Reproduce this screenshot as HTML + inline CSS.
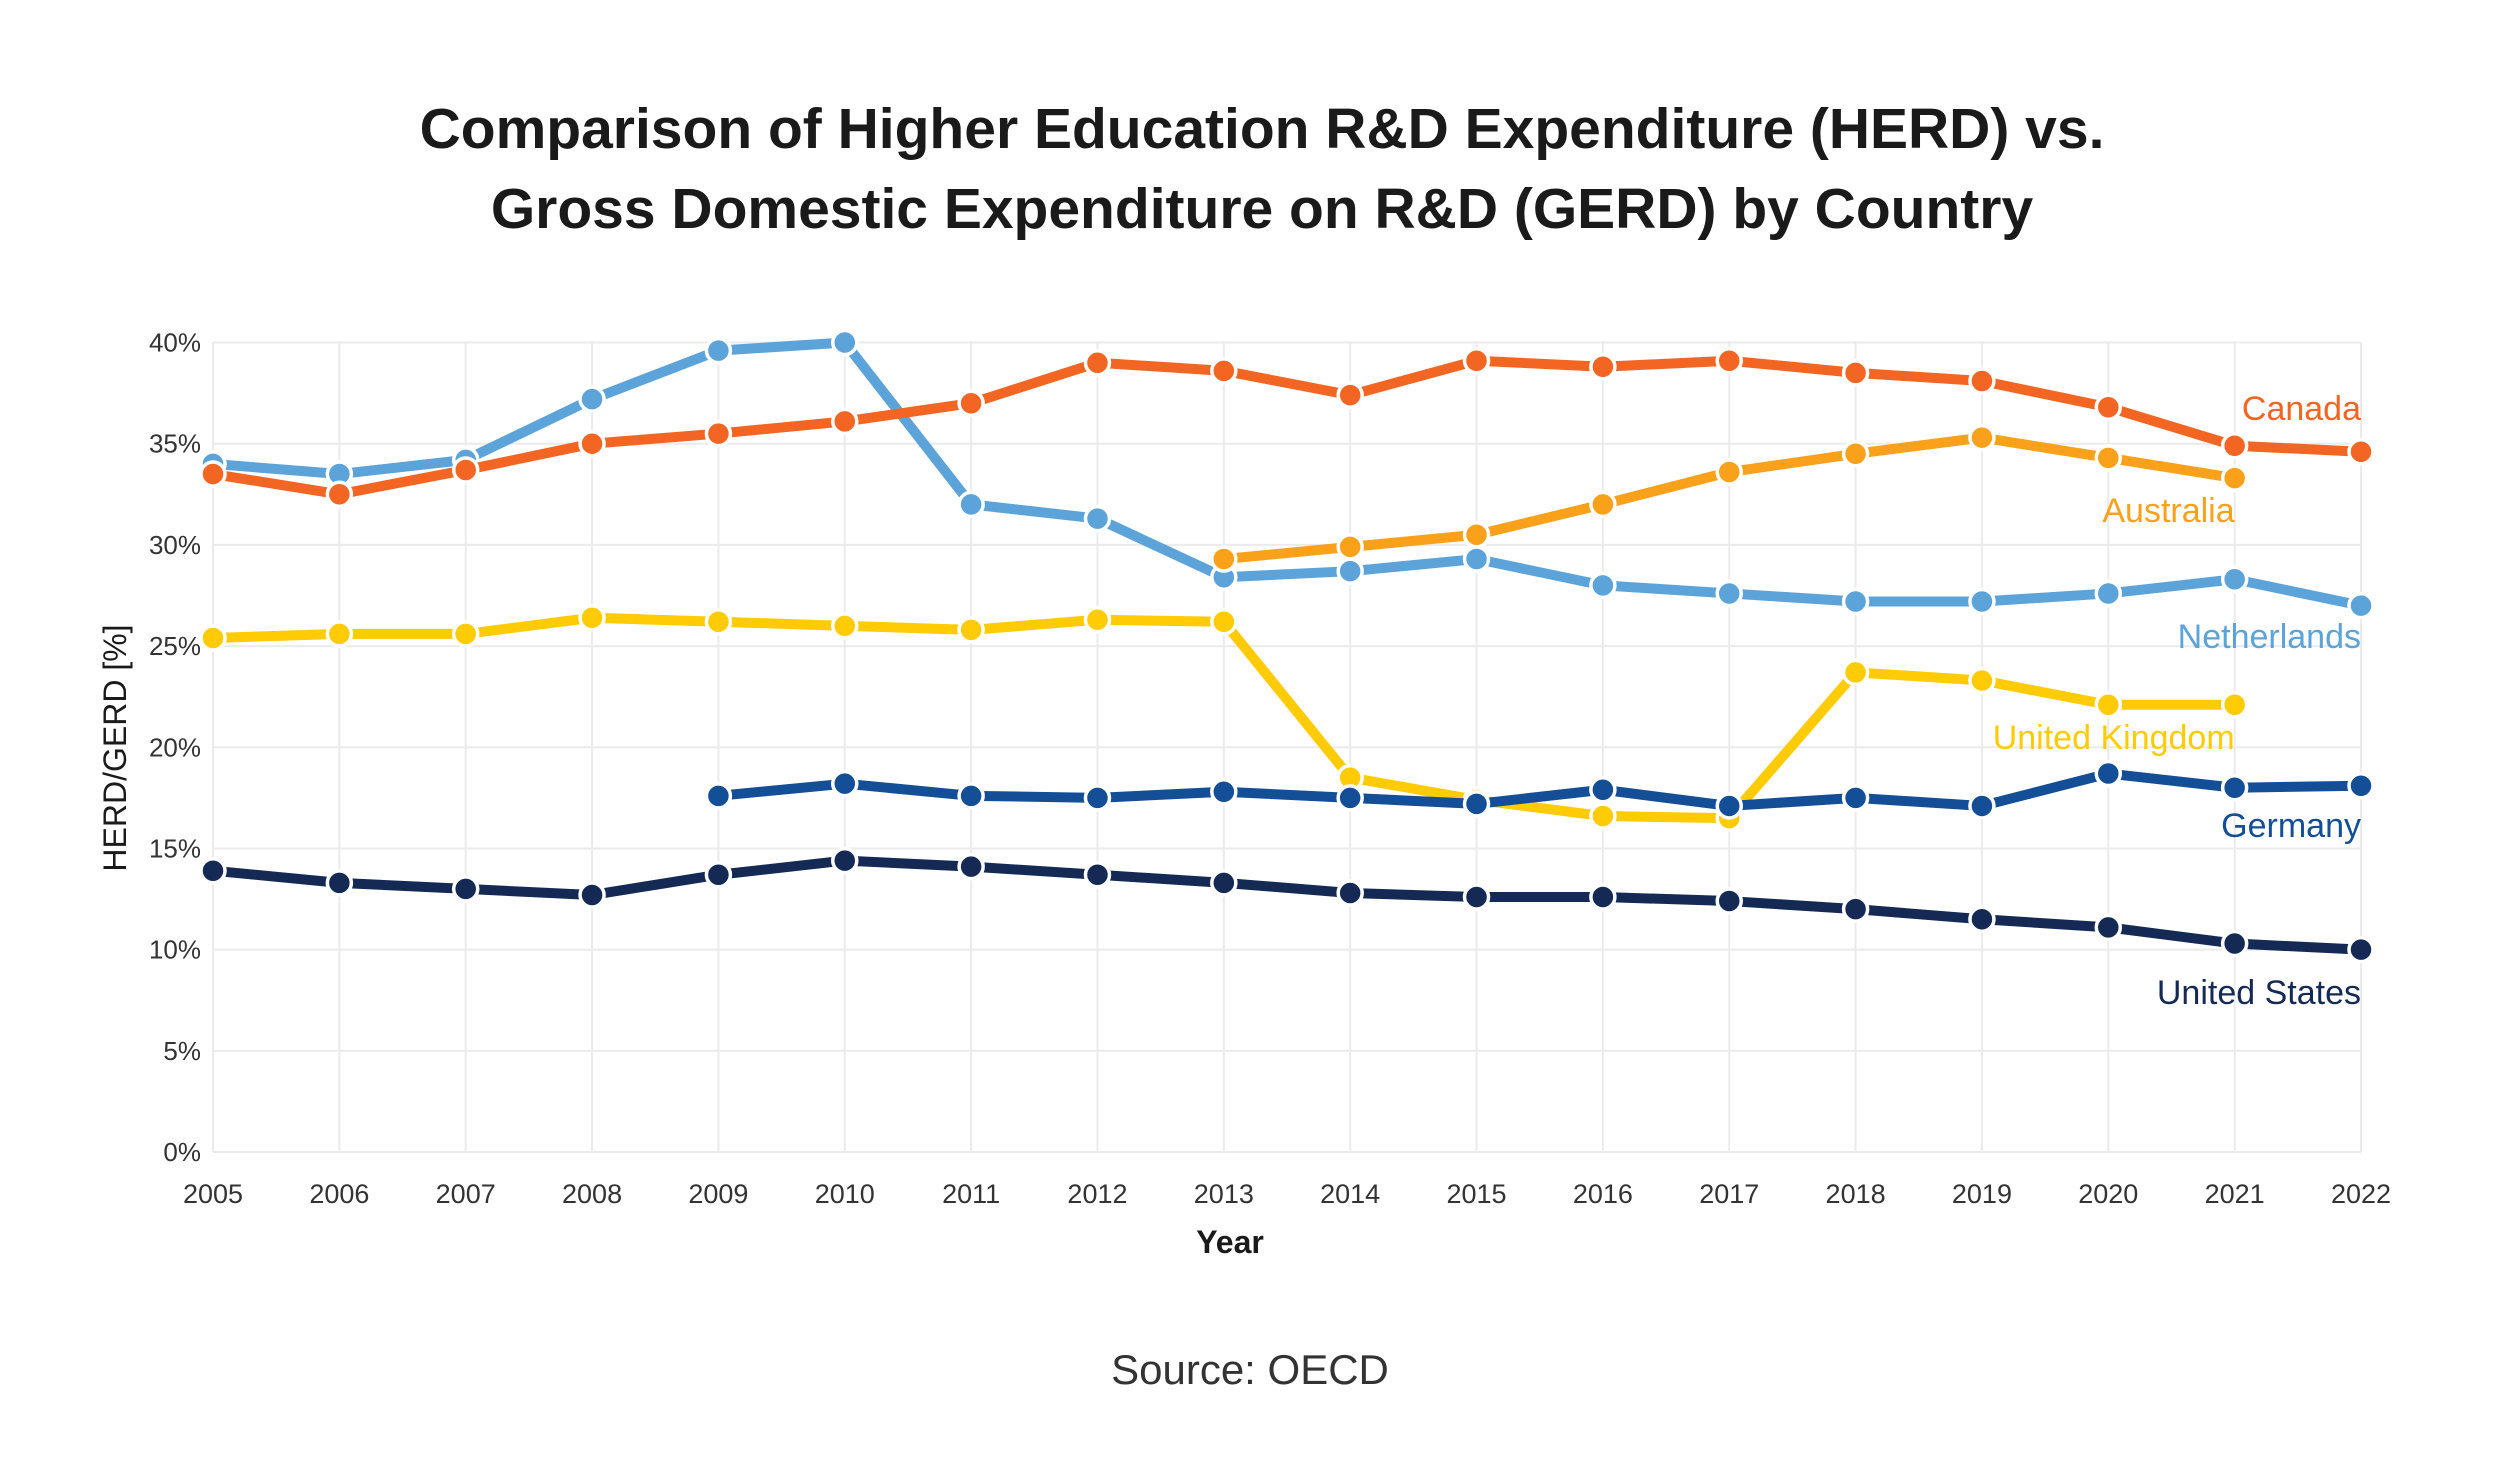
<!DOCTYPE html>
<html><head><meta charset="utf-8"><style>
html,body{margin:0;padding:0;background:#fff;}
svg{display:block;font-family:"Liberation Sans",sans-serif;}
</style></head><body>
<svg id="chart" width="2501" height="1473" viewBox="0 0 2501 1473">
<text x="1262" y="148" text-anchor="middle" font-size="57" font-weight="bold" fill="#1a1a1a">Comparison of Higher Education R&amp;D Expenditure (HERD) vs.</text>
<text x="1262" y="228" text-anchor="middle" font-size="57" font-weight="bold" fill="#1a1a1a">Gross Domestic Expenditure on R&amp;D (GERD) by Country</text>
<g id="grid"></g>
<g id="axes"></g>
<g id="series"></g>
<text x="1230" y="1253" text-anchor="middle" font-size="32" font-weight="bold" fill="#1a1a1a">Year</text>
<text transform="translate(126,748) rotate(-90)" text-anchor="middle" font-size="32" fill="#1a1a1a">HERD/GERD [%]</text>
<text x="1250" y="1384" text-anchor="middle" font-size="42" fill="#333">Source: OECD</text>
</svg>
<script>
const years = [2005,2006,2007,2008,2009,2010,2011,2012,2013,2014,2015,2016,2017,2018,2019,2020,2021,2022];
const yTicks = [0,5,10,15,20,25,30,35,40];
const canada = [33.5,32.5,33.7,35,35.5,36.1,37,39,38.6,37.4,39.1,38.8,39.1,38.5,38.1,36.8,34.9,34.6];
const netherlands = [34,33.5,34.2,37.2,39.6,40,32,31.3,28.4,28.7,29.3,28,27.6,27.2,27.2,27.6,28.3,27.0];
const australia = [null,null,null,null,null,null,null,null,29.3,29.9,30.5,32,33.6,34.5,35.3,34.3,33.3,null];
const uk = [25.4,25.6,25.6,26.4,26.2,26,25.8,26.3,26.2,18.5,17.4,16.6,16.5,23.7,23.3,22.1,22.1,null];
const germany = [null,null,null,null,17.6,18.2,17.6,17.5,17.8,17.5,17.2,17.9,17.1,17.5,17.1,18.7,18.0,18.1];
const us = [13.9,13.3,13.0,12.7,13.7,14.4,14.1,13.7,13.3,12.8,12.6,12.6,12.4,12.0,11.5,11.1,10.3,10.0];
const seriesNames = ["Netherlands","Canada","Australia","United Kingdom","Germany","United States"];

const NS="http://www.w3.org/2000/svg";
const L=213,R=2361,T=342.5,B=1152;
function xs(i){return L+(R-L)*i/(years.length-1);}
function ys(v){return B-(B-T)*v/40;}
function mk(tag,attrs,parent){const e=document.createElementNS(NS,tag);for(const k in attrs)e.setAttribute(k,attrs[k]);parent.appendChild(e);return e;}
const grid=document.getElementById('grid'),axes=document.getElementById('axes'),sg=document.getElementById('series');
yTicks.forEach(t=>{
  const l=mk('line',{x1:L,x2:R,y1:ys(t),y2:ys(t),stroke:'#ebebeb','stroke-width':2},grid);
  
  
  const tx=mk('text',{x:201,y:ys(t)+9,'text-anchor':'end','font-size':26,fill:'#333'},axes);
  tx.textContent=t+'%';
  
  
});
years.forEach((y,i)=>{
  const l=mk('line',{x1:xs(i),x2:xs(i),y1:T,y2:B,stroke:'#ebebeb','stroke-width':2},grid);
  
  
  const tx=mk('text',{x:xs(i),y:1203,'text-anchor':'middle','font-size':27,fill:'#333'},axes);
  tx.textContent=y;
  
  
});
const defs=[
 {d:netherlands,c:'#5ba3d9',n:'netherlands',label:'Netherlands',lx:R,ly:648},
 {d:canada,c:'#f26522',n:'canada',label:'Canada',lx:R,ly:420},
 {d:australia,c:'#f9a11b',n:'australia',label:'Australia',lx:xs(16),ly:522},
 {d:uk,c:'#ffcb05',n:'united-kingdom',label:'United Kingdom',lx:xs(16),ly:749},
 {d:germany,c:'#134e96',n:'germany',label:'Germany',lx:R,ly:837},
 {d:us,c:'#142a55',n:'united-states',label:'United States',lx:R,ly:1004}
];
defs.forEach((s,si)=>{
  const g=mk('g',{},sg);
  
  
  let pts=[];s.d.forEach((v,i)=>{if(v!=null)pts.push([xs(i),ys(v)]);});
  const p=mk('polyline',{points:pts.map(p=>p.join(',')).join(' '),fill:'none',stroke:s.c,'stroke-width':10,'stroke-linejoin':'round'},g);
  
  
  pts.forEach(pt=>{
    const c=mk('circle',{cx:pt[0],cy:pt[1],r:12,fill:s.c,stroke:'#fff','stroke-width':3.5},g);
    
    
  });
  const t=mk('text',{x:s.lx,y:s.ly,'text-anchor':'end','font-size':34,fill:s.c},g);
  t.textContent=seriesNames[si];
  
  
});
</script>
</body></html>
